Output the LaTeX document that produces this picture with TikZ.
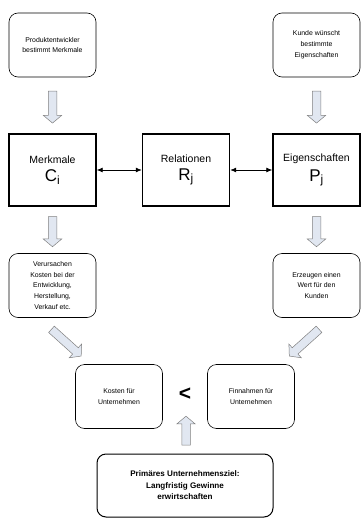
\documentclass[tikz,border=0pt]{standalone}
\usepackage{fontspec}
\setmainfont{Liberation Sans}
\usetikzlibrary{calc,shapes.arrows,arrows.meta}
\definecolor{arrowfill}{HTML}{E1E7F1}

\begin{document}
\begin{tikzpicture}[x=1pt,y=-1pt,
  roundbox/.style={draw, rounded corners=9pt, line width=0.6pt, align=center,
    minimum width=87pt, minimum height=64pt, inner sep=2pt,
    font=\fontsize{6.9}{10.8}\selectfont},
  thickbox/.style={draw, line width=1.4pt, minimum width=87pt, minimum height=72pt,
    align=center, font=\fontsize{10.5}{13}\selectfont},
  bigarrow/.style={single arrow, draw=gray, fill=arrowfill, line width=0.5pt,
    inner xsep=0pt, inner ysep=4pt, single arrow head extend=5pt,
    single arrow tip angle=100, minimum height=32pt},
  relarrow/.style={{Latex[length=6pt,width=5pt]}-{Latex[length=6pt,width=5pt]}, line width=0.8pt}]

\useasboundingbox (0,0) rectangle (361,519);

\node[roundbox] (prod) at (52.5,45) {Produktentwickler\\bestimmt Merkmale};
\node[roundbox] (kunde) at (316.5,45) {Kunde wünscht\\bestimmte\\Eigenschaften};

\node[thickbox] (merk) at (52.5,170) {Merkmale\\[5pt]{\fontsize{17}{17}\selectfont C\textsubscript{i}}};
\node[thickbox] (rel) at (186,170) {Relationen\\[5pt]{\fontsize{17}{17}\selectfont R\textsubscript{j}}};
\node[thickbox] (eig) at (316.5,170) {Eigenschaften\\[5pt]{\fontsize{17}{17}\selectfont P\textsubscript{j}}};

\node[roundbox] (verur) at (52.5,285.5) {Verursachen\\Kosten bei der\\Entwicklung,\\Herstellung,\\Verkauf etc.};
\node[roundbox] (erz) at (316.5,285.5) {Erzeugen einen\\Wert für den\\Kunden};

\node[roundbox] (kost) at (119,396.5) {Kosten für\\Unternehmen};
\node[roundbox] (einn) at (251,396.5) {Finnahmen für\\Unternehmen};
\node[font=\fontsize{21}{21}\bfseries] (lt) at (185,394) {<};

\node[roundbox, line width=1pt, minimum width=176pt, minimum height=63pt,
  font=\fontsize{8.1}{11.5}\bfseries] (ziel) at (185,485.5)
  {Primäres Unternehmensziel:\\Langfristig Gewinne\\erwirtschaften};

\node[bigarrow, rotate=-90] (a1) at ($(prod.south)!0.5!(merk.north)$) {};
\node[bigarrow, rotate=-90] (a2) at ($(kunde.south)!0.5!(eig.north)$) {};
\node[bigarrow, rotate=-90, minimum height=30pt] (a3) at ($(merk.south)!0.5!(verur.north)$) {};
\node[bigarrow, rotate=-90, minimum height=30pt] (a4) at ($(eig.south)!0.5!(erz.north)$) {};
\node[bigarrow, rotate=-42, minimum height=40pt] (a5) at (65,341.5) {};
\node[bigarrow, rotate=-138, minimum height=40pt] (a6) at (305.5,341.5) {};
\node[bigarrow, rotate=90, minimum height=29pt] (a7) at (186,432.5) {};

\draw[relarrow] (merk) -- (rel);
\draw[relarrow] (rel) -- (eig);

\end{tikzpicture}
\end{document}
